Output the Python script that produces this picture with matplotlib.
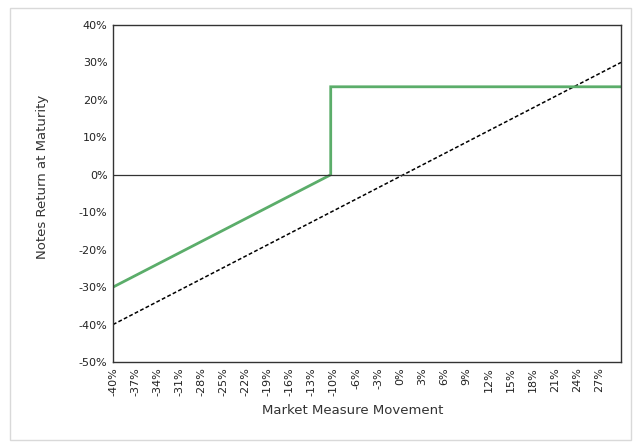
import matplotlib.pyplot as plt
import matplotlib.ticker as mticker
from matplotlib.patches import Rectangle
import numpy as np

# category labels on the x axis (every third one is shown)
categories = list(range(-40, -9)) + list(range(-8, 31))
# notes return: linear to -10%, then jump to 23.5% cap
notes_x = [-40, -10, -10, 30]
notes_y = [-30, 0, 23.5, 23.5]
# market measure (1:1 reference)
market_x = [-40, 30]
market_y = [-40, 30]

fig = plt.figure(figsize=(6.37, 4.42), dpi=100)
fig.add_artist(Rectangle((10 / 637, 1 - 440 / 442), 621 / 637, 432 / 442,
                         transform=fig.transFigure, fill=False,
                         edgecolor='#d9d9d9', linewidth=1))
ax = fig.add_axes([113 / 637, 1 - 362 / 442, 508 / 637, 337 / 442])

ax.plot(market_x, market_y, color='black', linestyle=(0, (2.5, 1.5)), linewidth=1.1)
ax.plot(notes_x, notes_y, color='#5BAD6A', linewidth=2.0, solid_joinstyle='miter')
ax.axhline(0, color='#333333', linewidth=0.9)

ax.set_xlim(-40, 30)
ax.set_ylim(-50, 40)
ax.set_yticks(np.arange(-50, 41, 10))
ax.yaxis.set_major_formatter(mticker.FuncFormatter(lambda v, p: f'{v:.0f}%'))

pos = np.linspace(-40, 30, len(categories))
idx = list(range(0, 67, 3))
ax.set_xticks(pos[idx])
ax.set_xticklabels([f'{categories[i]}%' for i in idx], rotation=90)

ax.tick_params(length=0, labelsize=8, colors='#222222', pad=4)
for s in ax.spines.values():
    s.set_color('#333333')
    s.set_linewidth(1.0)

ax.set_xlabel('Market Measure Movement', fontsize=9.5, color='#333333')
ax.set_ylabel('Notes Return at Maturity', fontsize=9.5, color='#333333')
ax.xaxis.set_label_coords(0.472, -0.125)
ax.yaxis.set_label_coords(-0.125, 0.55)

fig.savefig('out.png', dpi=100)
